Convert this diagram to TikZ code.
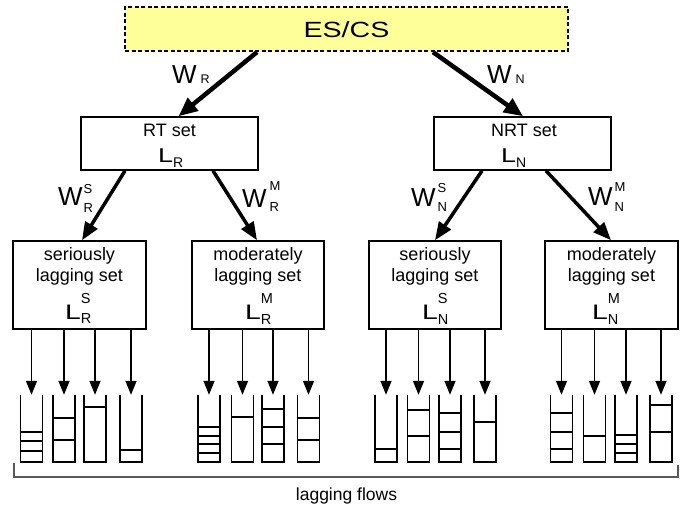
\documentclass[tikz,border=0pt]{standalone}
\usepackage{fontspec}
\setmainfont{Liberation Sans}
\usepackage{graphicx}
\usetikzlibrary{arrows.meta}
\definecolor{paleyellow}{RGB}{255,255,153}

% letter with stacked super- and subscript:
% #1 size, #2 x-scale, #3 letter, #4 script size, #5 sup, #6 sup raise,
% #7 sub, #8 sub drop, #9 kern before scripts
\newcommand\symb[9]{\fontsize{#1}{#1}\selectfont\scalebox{#2}[1]{#3}\kern#9pt%
  \fontsize{#4}{#4}\selectfont\rlap{\raisebox{#6pt}{#5}}\raisebox{-#8pt}{#7}}

% one flow queue: #1 name, #2 centre x, #3 feeding set, #4 packet lines
\newcommand\flowq[4]{%
  \node[queue] (#1) at (#2,428.5) {};
  \draw[qline] (#1.north west) -- (#1.south west) -- (#1.south east) -- (#1.north east);
  \foreach \yy in {#4} {\draw[qline] ({#2-11},\yy) -- ({#2+11},\yy);}
  \draw[flow] (#3.south -| #1.north) -- (#1.north);
}

\begin{document}
\begin{tikzpicture}[x=1pt,y=-1pt,
  setbox/.style={draw=black, line width=1.5pt, rectangle, inner sep=0pt},
  txt/.style={inner sep=0pt, anchor=base, font=\fontsize{18}{18}\selectfont},
  sym/.style={inner sep=0pt, anchor=base west},
  heavy/.style={line width=4.5pt, -{Triangle[length=19pt,width=16pt]}},
  medium/.style={line width=3.5pt, -{Triangle[length=18pt,width=14pt]}},
  flow/.style={line width=1.5pt, -{Triangle[length=14pt,width=11pt]}},
  queue/.style={inner sep=0pt, minimum width=22pt, minimum height=67pt},
  qline/.style={line width=1.5pt},
  bracket/.style={draw=black!65, line width=1.2pt}]

\useasboundingbox (0,0) rectangle (696,506);

% scheduler
\node[setbox, fill=paleyellow, dash pattern=on 4pt off 2.5pt, line width=2.2pt,
      minimum width=443pt, minimum height=44pt] (es) at (346.5,29) {};
\node[txt, font=\fontsize{22}{22}\selectfont] (estxt) at (346.5,37) {\scalebox{1.3}[1]{ES/CS}};

% real-time and non-real-time sets
\node[setbox, minimum width=177pt, minimum height=53pt] (rt) at (169.5,143.5) {};
\node[setbox, minimum width=177pt, minimum height=53pt] (nrt) at (522.5,143.5) {};
\node[txt] (rtlabel) at (169.5,136) {RT set};
\node[sym] (rtsym) at (158,162) {\symb{20}{1.35}{L}{14}{}{0}{R}{5}{0}};
\node[txt] (nrtlabel) at (524,136) {NRT set};
\node[sym] (nrtsym) at (501,162) {\symb{20}{1.35}{L}{14}{}{0}{N}{5}{0}};

% lagging sets
\node[setbox, minimum width=133pt, minimum height=88pt] (sR) at (79.5,285) {};
\node[setbox, minimum width=132pt, minimum height=88pt] (mR) at (258,285) {};
\node[setbox, minimum width=132pt, minimum height=88pt] (sN) at (435,285) {};
\node[setbox, minimum width=133pt, minimum height=88pt] (mN) at (611.5,285) {};

\node[txt] (sRa) at (79.5,260) {seriously};
\node[txt] (sRb) at (79.5,281) {lagging set};
\node[sym] (sRs) at (65,319) {\symb{21}{1.35}{L}{14.5}{S}{16}{R}{4}{0}};
\node[txt] (mRa) at (258,260) {moderately};
\node[txt] (mRb) at (258,281) {lagging set};
\node[sym] (mRs) at (245,319) {\symb{21}{1.35}{L}{14.5}{M}{16}{R}{5}{0}};
\node[txt] (sNa) at (435,260) {seriously};
\node[txt] (sNb) at (435,281) {lagging set};
\node[sym] (sNs) at (422,319) {\symb{21}{1.35}{L}{14.5}{S}{16}{N}{5}{0}};
\node[txt] (mNa) at (611.5,260) {moderately};
\node[txt] (mNb) at (611.5,281) {lagging set};
\node[sym] (mNs) at (592,319) {\symb{21}{1.35}{L}{14.5}{M}{16}{N}{5}{0}};

% weighted connections
\draw[heavy] ([xshift=-89.5pt]es.south) -- ([xshift=9pt]rt.north);
\draw[heavy] ([xshift=86.5pt]es.south) -- ([xshift=0.5pt]nrt.north);
\draw[medium] ([xshift=-44.5pt]rt.south) -- ([xshift=2.5pt]sR.north);
\draw[medium] ([xshift=43.5pt]rt.south) -- ([xshift=-1pt]mR.north);
\draw[medium] ([xshift=-40.5pt]nrt.south) -- (sN.north);
\draw[medium] ([xshift=23.5pt]nrt.south) -- ([xshift=-0.5pt]mN.north);

\node[sym] (wR) at (172,83) {\symb{26}{1}{W}{12.5}{}{0}{R}{0.5}{4}};
\node[sym] (wN) at (487,83) {\symb{26}{1}{W}{12.5}{}{0}{N}{0.5}{4}};
\node[sym] (wRS) at (58,205) {\symb{26}{1}{W}{13}{S}{12}{R}{7}{1}};
\node[sym] (wRM) at (242,207) {\symb{26}{1}{W}{13}{M}{17}{R}{4}{3}};
\node[sym] (wNS) at (411,206) {\symb{26}{1}{W}{13}{S}{14}{N}{5}{2}};
\node[sym] (wNM) at (588,205) {\symb{26}{1}{W}{13}{M}{14}{N}{6}{2}};

% per-flow queues
\flowq{q1}{31.5}{sR}{432,441,451}
\flowq{q2}{64}{sR}{418,440}
\flowq{q3}{95}{sR}{407}
\flowq{q4}{131}{sR}{450}
\flowq{q5}{209}{mR}{427,436,444,453}
\flowq{q6}{242.5}{mR}{417}
\flowq{q7}{273}{mR}{409,427,444}
\flowq{q8}{308.5}{mR}{418,440}
\flowq{q9}{386}{sN}{449}
\flowq{q10}{418.5}{sN}{410,436}
\flowq{q11}{450}{sN}{413,432,449}
\flowq{q12}{485}{sN}{422}
\flowq{q13}{561.5}{mN}{413,432,449}
\flowq{q14}{594.5}{mN}{436}
\flowq{q15}{626}{mN}{435,444,453}
\flowq{q16}{661}{mN}{405,432}

% grouping bracket
\draw[bracket] (14,463) -- (14,477) -- (678,477) -- (678,465);
\node[txt, font=\fontsize{17.5}{17.5}\selectfont] (flows) at (346.5,500) {lagging flows};

\end{tikzpicture}
\end{document}
